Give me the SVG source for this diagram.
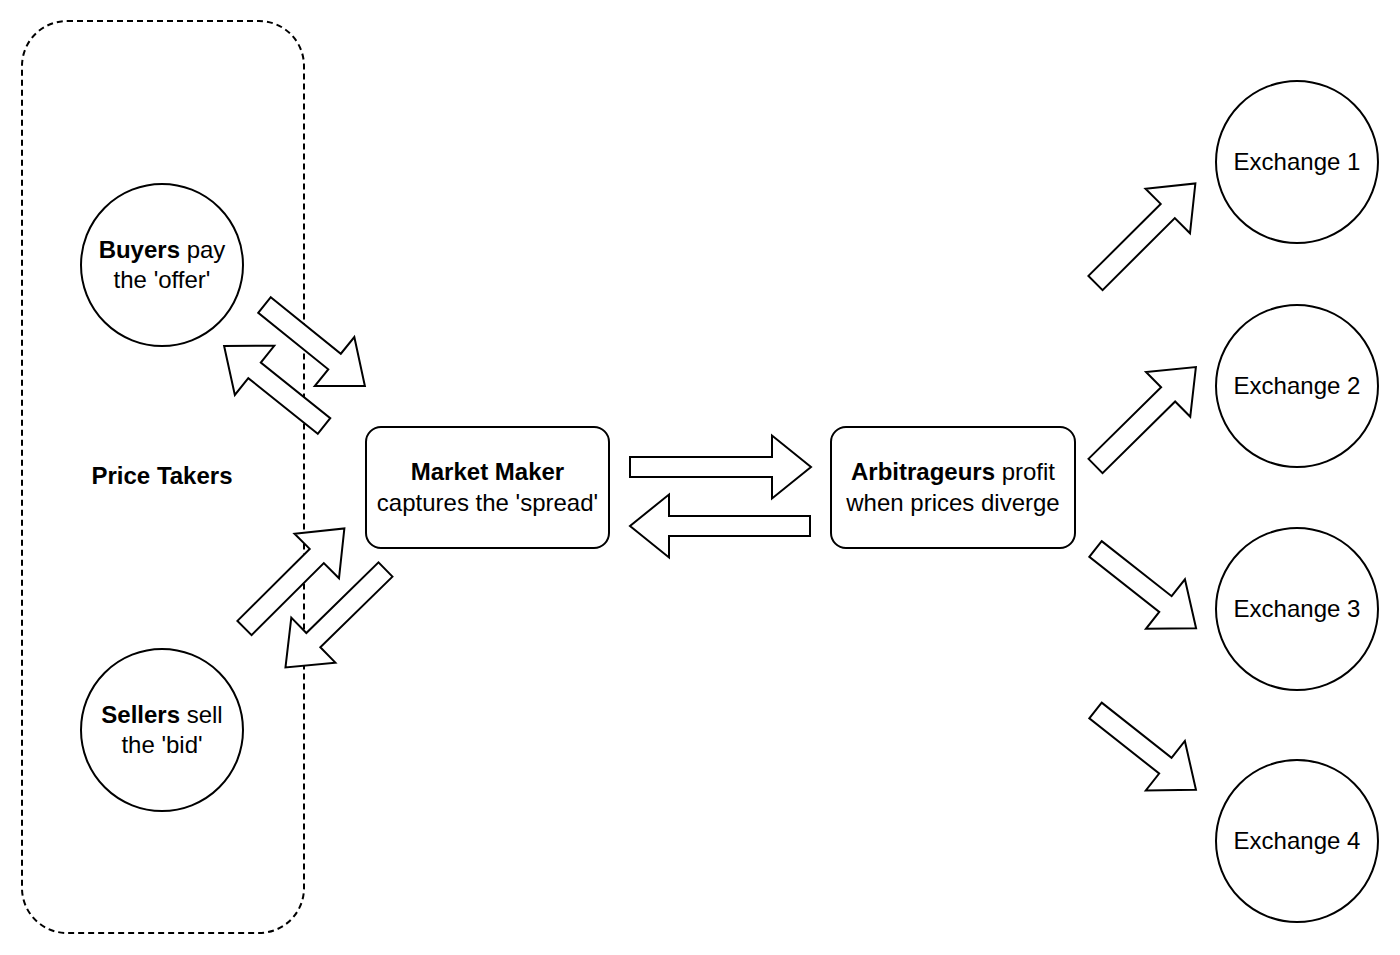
<svg xmlns="http://www.w3.org/2000/svg" width="1400" height="955" viewBox="0 0 1400 955">
<style>
  .shape { fill: #ffffff; stroke: #000000; stroke-width: 2; }
  .arrow { fill: #ffffff; stroke: #000000; stroke-width: 2; stroke-linejoin: miter; }
  .group { fill: none; stroke: #000000; stroke-width: 2; stroke-dasharray: 6 4; }
  text { font-family: "Liberation Sans", Arial, Helvetica, sans-serif; font-size: 24px; fill: #000000; text-anchor: middle; }
  .b { font-weight: bold; }
</style>
<rect width="1400" height="955" fill="#ffffff"/>

<g id="price-takers">
  <rect class="group" x="22" y="21" width="282" height="912" rx="45" ry="45"/>
  <text x="162" y="484" class="b">Price Takers</text>
</g>

<g id="buyers">
  <circle class="shape" cx="162" cy="265" r="81"/>
  <text x="162" y="258"><tspan class="b">Buyers</tspan> pay</text>
  <text x="162" y="288">the 'offer'</text>
</g>

<g id="sellers">
  <circle class="shape" cx="162" cy="730" r="81"/>
  <text x="162" y="723"><tspan class="b">Sellers</tspan> sell</text>
  <text x="162" y="753">the 'bid'</text>
</g>

<g id="market-maker">
  <rect class="shape" x="366" y="427" width="243" height="121" rx="15" ry="15"/>
  <text x="487.5" y="480" class="b">Market Maker</text>
  <text x="487.5" y="511">captures the 'spread'</text>
</g>

<g id="arbitrageurs">
  <rect class="shape" x="831" y="427" width="244" height="121" rx="15" ry="15"/>
  <text x="953" y="480"><tspan class="b">Arbitrageurs</tspan> profit</text>
  <text x="953" y="511">when prices diverge</text>
</g>

<g id="exchange-1">
  <circle class="shape" cx="1297" cy="162" r="81"/>
  <text x="1297" y="170">Exchange 1</text>
</g>
<g id="exchange-2">
  <circle class="shape" cx="1297" cy="386" r="81"/>
  <text x="1297" y="394">Exchange 2</text>
</g>
<g id="exchange-3">
  <circle class="shape" cx="1297" cy="609" r="81"/>
  <text x="1297" y="617">Exchange 3</text>
</g>
<g id="exchange-4">
  <circle class="shape" cx="1297" cy="841" r="81"/>
  <text x="1297" y="849">Exchange 4</text>
</g>

<g id="connectors">
  <!-- buyers -> market maker -->
  <path class="arrow" transform="translate(264.5,305) rotate(38.9)" d="M0,-10 H90 V-31.5 L129,0 L90,31.5 V10 H0 Z"/>
  <!-- market maker -> buyers -->
  <path class="arrow" transform="translate(324,426) rotate(218.7)" d="M0,-10 H89 V-31.5 L128,0 L89,31.5 V10 H0 Z"/>
  <!-- sellers -> market maker -->
  <path class="arrow" transform="translate(244.5,628) rotate(-44.9)" d="M0,-10 H102 V-31.5 L141,0 L102,31.5 V10 H0 Z"/>
  <!-- market maker -> sellers -->
  <path class="arrow" transform="translate(385.5,569.5) rotate(135.6)" d="M0,-10 H101 V-31.5 L140,0 L101,31.5 V10 H0 Z"/>
  <!-- market maker -> arbitrageurs -->
  <path class="arrow" d="M630,457 H772 V435.5 L811,467 L772,498.5 V477 H630 Z"/>
  <!-- arbitrageurs -> market maker -->
  <path class="arrow" d="M810,516 H669 V494.5 L630,526 L669,557.5 V536 H810 Z"/>
  <!-- arbitrageurs -> exchanges -->
  <path class="arrow" transform="translate(1095.5,283) rotate(-44.9)" d="M0,-10 H102 V-31.5 L141,0 L102,31.5 V10 H0 Z"/>
  <path class="arrow" transform="translate(1095.5,466) rotate(-44.6)" d="M0,-10 H102 V-31.5 L141,0 L102,31.5 V10 H0 Z"/>
  <path class="arrow" transform="translate(1095.5,549) rotate(38.2)" d="M0,-10 H89 V-31.5 L128,0 L89,31.5 V10 H0 Z"/>
  <path class="arrow" transform="translate(1095.5,710.5) rotate(38.3)" d="M0,-10 H89 V-31.5 L128,0 L89,31.5 V10 H0 Z"/>
</g>
</svg>
